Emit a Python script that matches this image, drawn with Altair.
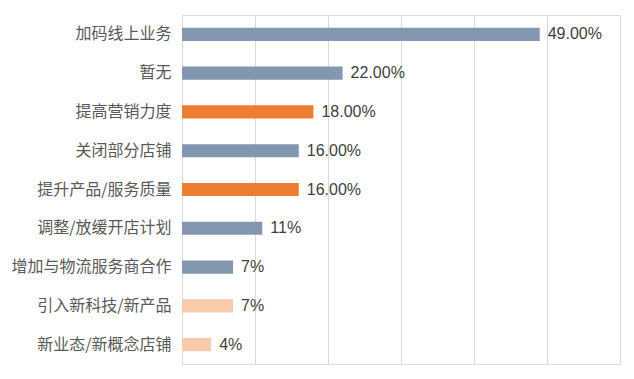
import altair as alt
import pandas as pd

categories = ["加码线上业务", "暂无", "提高营销力度", "关闭部分店铺", "提升产品/服务质量",
              "调整/放缓开店计划", "增加与物流服务商合作", "引入新科技/新产品", "新业态/新概念店铺"]
values = [49, 22, 18, 16, 16, 11, 7, 7, 4]
labels = ["49.00%", "22.00%", "18.00%", "16.00%", "16.00%", "11%", "7%", "7%", "4%"]
groups = ["a", "a", "b", "a", "b", "a", "a", "c", "c"]
colors = {"a": "#8497B0", "b": "#ED7D31", "c": "#F8CBAD"}

df = pd.DataFrame({"cat": categories, "val": values, "lab": labels, "grp": groups})

y = alt.Y("cat:N", sort=categories, title=None,
          scale=alt.Scale(paddingInner=0.66, paddingOuter=0.33),
          axis=alt.Axis(domain=False, ticks=False, labelFont="Noto Sans CJK SC",
                        labelFontSize=16, labelColor="#595959", labelPadding=11, grid=False))
x = alt.X("val:Q", title=None, scale=alt.Scale(domain=[0, 60], nice=False),
          axis=alt.Axis(values=[0, 10, 20, 30, 40, 50, 60], labels=False, ticks=False,
                        domain=False, grid=True, gridColor="#D9D9D9", gridWidth=1))

bars = alt.Chart(df).mark_bar().encode(
    x=x, y=y,
    color=alt.Color("grp:N", scale=alt.Scale(domain=list(colors.keys()), range=list(colors.values())),
                    legend=None),
)
text = alt.Chart(df).mark_text(align="left", baseline="middle", dx=8, font="Liberation Sans",
                               fontSize=16, color="#404040").encode(
    x="val:Q", y=alt.Y("cat:N", sort=categories), text="lab:N")

chart = (bars + text).properties(
    width=438, height=349,
    autosize=alt.AutoSizeParams(type="none"),
    padding={"left": 182, "top": 15, "right": 14, "bottom": 15},
).configure_view(stroke=None).configure(background="white")

chart.save("out.html", embed_options={"renderer": "svg", "actions": False})
